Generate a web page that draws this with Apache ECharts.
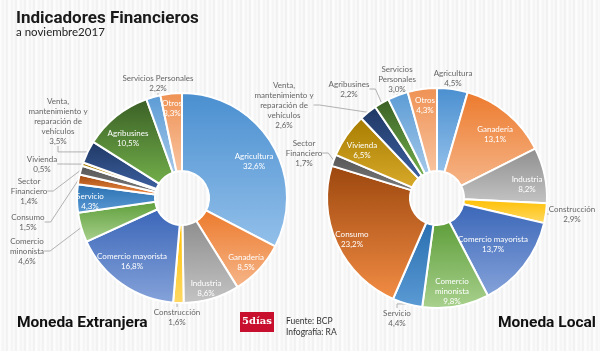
<!DOCTYPE html>
<html>
<head>
<meta charset="utf-8">
<script src="https://cdn.jsdelivr.net/npm/echarts@6/dist/echarts.min.js"></script>
<style>
  html, body { margin: 0; padding: 0; }
  body {
    width: 600px; height: 351px;
    background: repeating-linear-gradient(90deg, #ffffff 0px, #f3f3f3 3px, #fcfcfc 5px, #eeeeee 7px, #ffffff 9px);
  }
  #chart { width: 600px; height: 351px; }
</style>
</head>
<body>
<div id="chart"></div>
<script>
// categorias (orden horario desde arriba)
const categories = [
  'Agricultura', 'Ganadería', 'Industria', 'Construcción', 'Comercio mayorista',
  'Comercio minonista', 'Servicio', 'Consumo', 'Sector Financiero', 'Vivienda',
  'Venta, mantenimiento y reparación de vehículos', 'Agribusines', 'Servicios Personales', 'Otros'
]
// texto de las etiquetas
const labelNames = [
  'Agricultura', 'Ganadería', 'Industria', 'Construcción', 'Comercio mayorista',
  'Comercio\nminonista', 'Servicio', 'Consumo', 'Sector\nFinanciero', 'Vivienda',
  'Venta,\nmantenimiento y\nreparación de\nvehículos', 'Agribusines', 'Servicios Personales', 'Otros'
]
const labelNamesLocal = labelNames.slice()
labelNamesLocal[12] = 'Servicios\nPersonales'

const extranjera = [32.6, 8.5, 8.6, 1.6, 16.8, 4.6, 4.3, 1.5, 1.4, 0.5, 3.5, 10.5, 2.2, 3.3]
const local = [4.5, 13.1, 8.2, 2.9, 13.7, 9.8, 4.4, 23.2, 1.7, 6.5, 2.6, 2.2, 3.0, 4.3]
// etiquetas dentro del sector
const insideExt = ['Agricultura', 'Ganadería', 'Industria', 'Comercio mayorista', 'Servicio', 'Agribusines', 'Otros']
const insideLoc = ['Ganadería', 'Industria', 'Comercio mayorista', 'Comercio minonista', 'Consumo', 'Vivienda', 'Otros']

// donde van las etiquetas (centro x, arriba y)
const labelSpotExt = {
  'Agricultura': [254, 151],
  'Ganadería': [246, 252],
  'Industria': [206, 278],
  'Comercio mayorista': [132, 251],
  'Servicio': [90, 191],
  'Agribusines': [128, 128],
  'Otros': [172, 98],
  'Construcción': [177, 307],
  'Comercio minonista': [27, 236],
  'Consumo': [28, 212],
  'Sector Financiero': [29, 176],
  'Vivienda': [42, 154],
  'Venta, mantenimiento y reparación de vehículos': [58, 96],
  'Servicios Personales': [158, 73]
}
const labelSpotLoc = {
  'Ganadería': [495, 124],
  'Industria': [527, 174],
  'Comercio mayorista': [493, 234],
  'Comercio minonista': [452, 276],
  'Consumo': [352, 229],
  'Vivienda': [362, 140],
  'Otros': [425, 95],
  'Agricultura': [453, 68],
  'Construcción': [572, 204],
  'Servicio': [397, 308],
  'Sector Financiero': [304, 138],
  'Venta, mantenimiento y reparación de vehículos': [284, 80],
  'Agribusines': [349, 79],
  'Servicios Personales': [397, 64]
}

const colors = {
  'Agricultura': ['#4a8fd0', '#93c0ea'],
  'Ganadería': ['#ec7a2c', '#f6b68a'],
  'Industria': ['#8e8e8e', '#c4c4c4'],
  'Construcción': ['#ffbf00', '#ffd966'],
  'Comercio mayorista': ['#3a66b8', '#86a3da'],
  'Comercio minonista': ['#5e9e3a', '#a9d18e'],
  'Servicio': ['#2a6fb0', '#5b9bd5'],
  'Consumo': ['#9c470e', '#f28c44'],
  'Sector Financiero': ['#555555', '#7a7a7a'],
  'Vivienda': ['#a67c00', '#d9aa2a'],
  'Venta, mantenimiento y reparación de vehículos': ['#1f3864', '#3c5f9f'],
  'Agribusines': ['#3a5f25', '#72ae4a'],
  'Servicios Personales': ['#5b9bd5', '#a4c8e9'],
  'Otros': ['#ef9153', '#f8c4a0']
}

const fontFam = 'Lato, sans-serif'
const boldFam = 'Roboto, sans-serif'

function fmt(v) {
  return v.toFixed(1).replace('.', ',') + '%'
}

function buildData(values, inside, names) {
  return categories.map((name, i) => {
    const isIn = inside.indexOf(name) >= 0
    return {
      name: name,
      value: values[i],
      itemStyle: {
        color: new echarts.graphic.LinearGradient(0, 0, 0, 1, [
          { offset: 0, color: colors[name][0] },
          { offset: 1, color: colors[name][1] }
        ])
      },
      label: {
        position: isIn ? 'inside' : 'outside',
        color: isIn ? '#ffffff' : '#666666',
        formatter: names[i] + '\n' + fmt(values[i])
      },
      labelLine: { show: !isIn }
    }
  })
}

function pieSeries(values, inside, names, spots, center, radius) {
  return {
    type: 'pie',
    center: center,
    radius: radius,
    startAngle: 90,
    clockwise: true,
    avoidLabelOverlap: false,
    itemStyle: { borderColor: '#ffffff', borderWidth: 2 },
    label: {
      fontFamily: fontFam,
      fontSize: 8,
      lineHeight: 10,
      align: 'center'
    },
    labelLine: {
      length: 6,
      length2: 6,
      lineStyle: { color: '#a0a0a0', width: 0.8 }
    },
    labelLayout: function (params) {
      const spot = spots[categories[params.dataIndex]]
      if (!spot) return { hideOverlap: false }
      return { x: spot[0], y: spot[1], align: 'center', verticalAlign: 'top', hideOverlap: false }
    },
    data: buildData(values, inside, names)
  }
}

const chart = echarts.init(document.getElementById('chart'), null, { renderer: 'canvas' })
chart.setOption({
  backgroundColor: 'transparent',
  animation: false,
  title: [
    {
      text: 'Indicadores Financieros',
      subtext: 'a noviembre2017',
      left: 11, top: 5,
      itemGap: -1,
      textStyle: { fontFamily: boldFam, fontWeight: 'bold', fontSize: 17, color: '#1a1a1a' },
      subtextStyle: { fontFamily: fontFam, fontSize: 11.5, color: '#222222' }
    },
    {
      text: 'Moneda Extranjera',
      left: 12, top: 310,
      textStyle: { fontFamily: boldFam, fontWeight: 'bold', fontSize: 15.5, color: '#111111' }
    },
    {
      text: 'Moneda Local',
      left: 493, top: 310,
      textStyle: { fontFamily: boldFam, fontWeight: 'bold', fontSize: 15.5, color: '#111111' }
    },
    {
      text: 'Fuente: BCP\nInfografía: RA',
      left: 281, top: 311,
      textStyle: { fontFamily: fontFam, fontWeight: 'normal', fontSize: 8.5, lineHeight: 11, color: '#333333' }
    }
  ],
  graphic: [
    {
      type: 'group', left: 240, top: 312,
      children: [
        { type: 'rect', shape: { x: 0, y: 0, width: 34, height: 20 }, style: { fill: '#c8102e' } },
        { type: 'text', x: 17, y: 9, style: { text: '5días', fill: '#ffffff', font: 'bold 10px "DejaVu Serif", serif', align: 'center', verticalAlign: 'middle' } }
      ]
    }
  ],
  series: [
    pieSeries(extranjera, insideExt, labelNames, labelSpotExt, [182, 198], [27, 105]),
    pieSeries(local, insideLoc, labelNamesLocal, labelSpotLoc, [437, 198], [27, 110])
  ]
})
</script>
</body>
</html>
